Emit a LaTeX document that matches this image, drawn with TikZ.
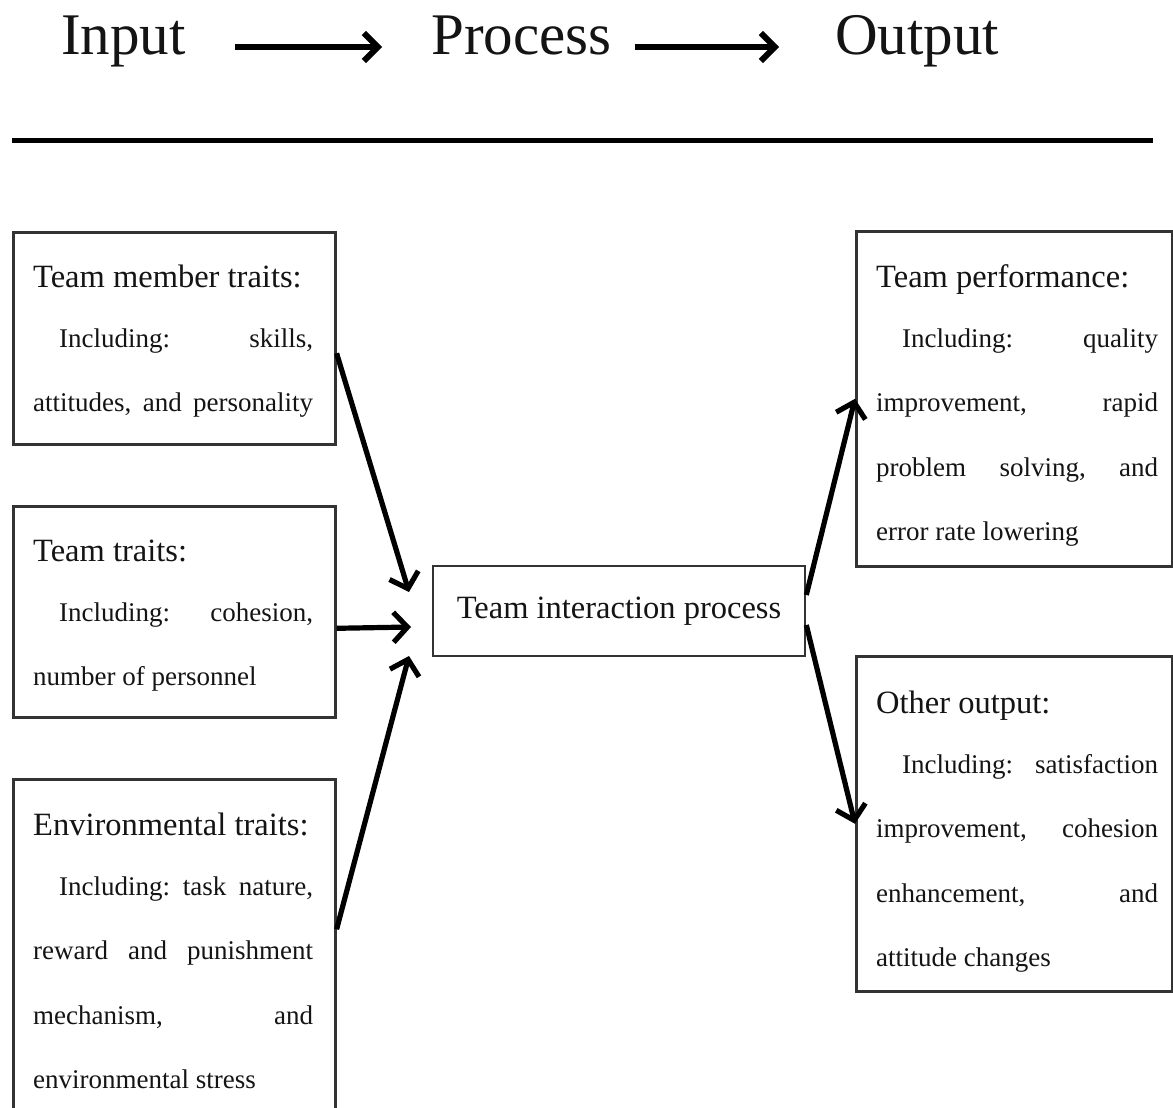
\documentclass[tikz,border=0pt]{standalone}
\usepackage{fontspec}
\setmainfont{Liberation Serif}
\usetikzlibrary{arrows.meta}
\definecolor{ink}{HTML}{141414}
\definecolor{edge}{HTML}{333333}
\newcommand\titlefont{\fontsize{32.5}{36}\selectfont}
\newcommand\bodyfont{\fontsize{27}{30}\selectfont}
% justified line of fixed width, and a line at its natural width
\newcommand\jline[2][280pt]{\hbox to #1{\bodyfont #2}}
\newcommand\pline[1]{\hbox{\bodyfont #1}}
\newcommand\indsp{\hspace*{26pt}}
% a block of text: title line, then body lines on a fixed baseline grid
\newcommand\txtblock[2]{\vtop{\hsize=282pt\baselineskip=64.3pt\lineskiplimit=-60pt\lineskip=0pt
  \hbox{\titlefont #1}\vskip-3.8pt #2}}
\begin{document}
\begin{tikzpicture}[x=1pt,y=-1pt,
  box/.style={draw=edge, line width=2.6pt, rectangle, inner sep=0pt, anchor=north west},
  blk/.style={anchor=base west, inner sep=0pt, text=ink},
  head/.style={font=\fontsize{59}{65}\selectfont, inner sep=0pt, anchor=base west, text=ink},
  flow/.style={draw=black, line width=5.2pt, -{Straight Barb[length=14pt,width=30pt]}},
  harrow/.style={draw=black, line width=6pt, -{Straight Barb[length=14pt,width=28pt]}}]
\clip (0,0) rectangle (1173,1108);
\fill[white] (0,0) rectangle (1173,1108);

% heading row
\node[head] (hin) at (61,55) {Input};
\node[head] (hpr) at (431,55) {Process};
\node[head] (hout) at (835,55) {Output};
\draw[harrow, shorten <=49pt, shorten >=49pt] ([yshift=8pt]hin.base east) -- ([yshift=8pt]hpr.base west);
\draw[harrow, shorten <=23pt, shorten >=56pt] ([yshift=8pt]hpr.base east) -- ([yshift=8pt]hout.base west);
\draw[line width=5pt, black] (12,140) -- (1153,140);

% input boxes
\node[box, minimum width=322pt, minimum height=212pt] (b1) at (12,231) {};
\node[box, minimum width=322pt, minimum height=211pt] (b2) at (12,505) {};
\node[box, minimum width=322pt, minimum height=360pt] (b3) at (12,778) {};
\node[blk] (t1) at (33,287) {\txtblock{Team member traits:}{%
  \jline{\indsp Including:\hfill skills,}%
  \jline{attitudes,\hfill and\hfill personality}}};
\node[blk] (t2) at (33,561) {\txtblock{Team traits:}{%
  \jline{\indsp Including:\hfill cohesion,}%
  \pline{number of personnel}}};
\node[blk] (t3) at (33,835) {\txtblock{Environmental traits:}{%
  \jline{\indsp Including:\hfill task\hfill nature,}%
  \jline{reward\hfill and\hfill punishment}%
  \jline{mechanism,\hfill and}%
  \pline{environmental stress}}};

% process box
\node[box, anchor=center, minimum width=372pt, minimum height=90pt, text=ink, font=\titlefont] (c) at (619,611) {Team interaction process};

% output boxes
\node[box, minimum width=316pt, minimum height=335pt] (r1) at (855,230) {};
\node[box, minimum width=316pt, minimum height=335pt] (r2) at (855,655) {};
\node[blk] (t4) at (876,287) {\txtblock{Team performance:}{%
  \jline[282pt]{\indsp Including:\hfill quality}%
  \jline[282pt]{improvement,\hfill rapid}%
  \jline[282pt]{problem\hfill solving,\hfill and}%
  \pline{error rate lowering}}};
\node[blk] (t5) at (876,713) {\txtblock{Other output:}{%
  \jline[282pt]{\indsp Including:\hfill satisfaction}%
  \jline[282pt]{improvement,\hfill cohesion}%
  \jline[282pt]{enhancement,\hfill and}%
  \pline{attitude changes}}};

% connectors
\coordinate (p1) at (409,592);
\coordinate (p2) at (411,627);
\coordinate (p3) at (409,656);
\draw[flow] ([yshift=-15pt]b1.east) -- (p1);
\draw[flow] ([yshift=-16.5pt]b2.east) -- (p2);
\draw[flow] ([yshift=30pt]b3.east) -- (p3);
\draw[flow] ([yshift=16pt]c.east) -- (r1.west);
\draw[flow] ([yshift=-14pt]c.east) -- (r2.west);
\end{tikzpicture}
\end{document}
